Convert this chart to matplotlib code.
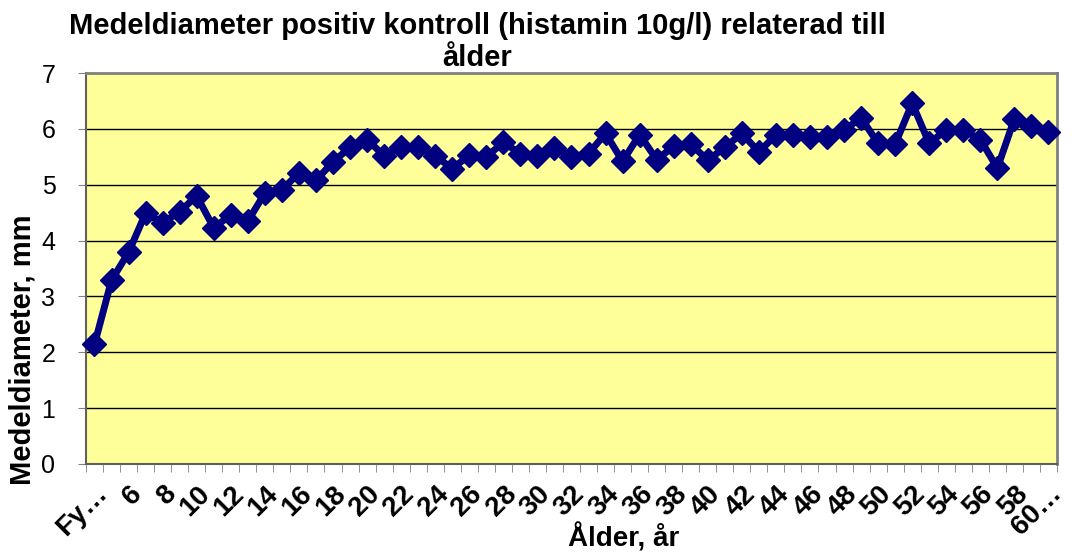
import numpy as np
import matplotlib.pyplot as plt

plt.rcParams['font.family'] = ['Liberation Sans', 'DejaVu Sans']

# categories (age groups) as they appear on the axis
ages = ["Fy…", "5", "6", "7", "8", "9", "10", "11", "12", "13", "14", "15", "16",
        "17", "18", "19", "20", "21", "22", "23", "24", "25", "26", "27", "28",
        "29", "30", "31", "32", "33", "34", "35", "36", "37", "38", "39", "40",
        "41", "42", "43", "44", "45", "46", "47", "48", "49", "50", "51", "52",
        "53", "54", "55", "56", "57", "58", "59", "60…"]

# mean diameter, mm
diam = [2.14, 3.29, 3.79, 4.49, 4.32, 4.52, 4.80, 4.23, 4.46, 4.35,
        4.85, 4.91, 5.21, 5.08, 5.41, 5.67, 5.81, 5.52, 5.68, 5.67,
        5.52, 5.29, 5.53, 5.50, 5.76, 5.56, 5.51, 5.66, 5.50, 5.56,
        5.92, 5.42, 5.90, 5.45, 5.69, 5.73, 5.44, 5.67, 5.92, 5.59,
        5.89, 5.89, 5.86, 5.86, 5.98, 6.20, 5.74, 5.73, 6.46, 5.74,
        5.99, 5.98, 5.81, 5.30, 6.18, 6.06, 5.95]

yticks = [0, 1, 2, 3, 4, 5, 6, 7]

fig = plt.figure(figsize=(10.8, 5.54), dpi=100)
ax = fig.add_axes([0.0796, 0.1625, 0.8991, 0.7055])
ax.set_facecolor('#FFFF99')

x = np.arange(len(ages))
ax.plot(x, diam, color='#000080', lw=5, marker='D', markersize=12.5,
        markeredgecolor='#000080', markerfacecolor='#000080', zorder=3,
        clip_on=False)

ax.set_xlim(-0.5, len(ages) - 0.5)
ax.set_ylim(0, 7)

# gridlines
for g in yticks[1:-1]:
    ax.axhline(g, color='black', lw=1, zorder=1)

ax.set_yticks(yticks)
ax.set_yticklabels([str(v) for v in yticks], fontsize=18)
ax.tick_params(axis='y', direction='out', length=6, color='#808080', pad=16)

# labels on every other category, tick marks between categories
ax.set_xticks(x[::2])
ax.set_xticklabels(ages[::2], rotation=45, ha='right', rotation_mode='anchor',
                   fontsize=20, fontweight='bold')
ax.tick_params(axis='x', which='major', length=0, pad=12)
ax.set_xticks(np.arange(len(ages) + 1) - 0.5, minor=True)
ax.tick_params(axis='x', which='minor', direction='out', length=6, color='#808080')

for s in ['top', 'right']:
    ax.spines[s].set_color('#808080')
    ax.spines[s].set_linewidth(2)
ax.spines['left'].set_color('#606060')
ax.spines['bottom'].set_color('#606060')
ax.spines['left'].set_linewidth(1.5)
ax.spines['bottom'].set_linewidth(1.5)

fig.text(0.021, 0.368, 'Medeldiameter, mm', fontsize=21, fontweight='bold',
         rotation=90, ha='center', va='center')
fig.text(0.577, 0.03, 'Ålder, år', fontsize=20, fontweight='bold', ha='center', va='center')
fig.text(0.442, 0.953, 'Medeldiameter positiv kontroll (histamin 10g/l) relaterad till',
         fontsize=21, fontweight='bold', ha='center', va='center')
fig.text(0.442, 0.895, 'ålder', fontsize=21, fontweight='bold', ha='center', va='center')

fig.savefig('out.png', dpi=100)
